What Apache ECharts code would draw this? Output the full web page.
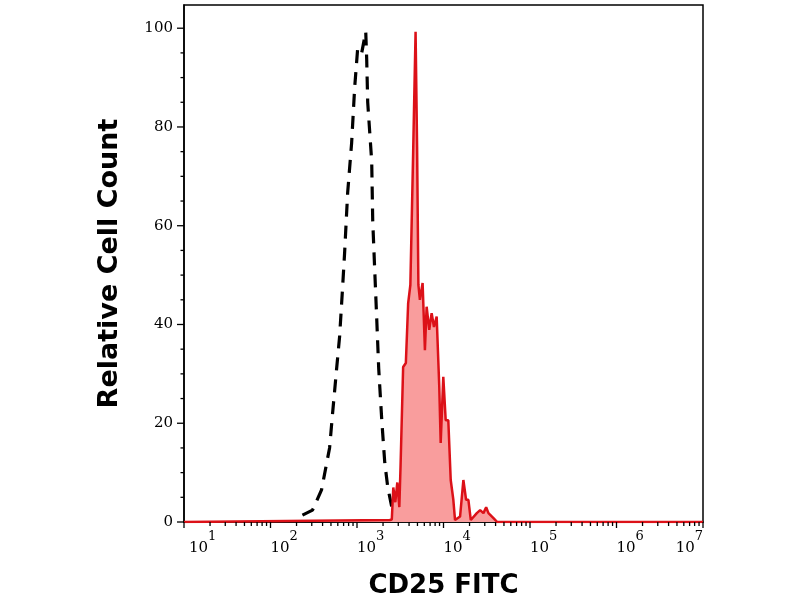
<!DOCTYPE html>
<html>
<head>
<meta charset="utf-8">
<script src="https://cdn.jsdelivr.net/npm/echarts@6/dist/echarts.min.js"></script>
<style>
  html, body { margin: 0; padding: 0; background: #fff; }
  #chart { width: 800px; height: 600px; }
</style>
</head>
<body>
<div id="chart"></div>
<script>
// isotype control (black dashed), [intensity, relative count]
const isotypeX = [234, 306, 389, 482, 522, 581, 629, 682, 719, 780, 867, 940, 1019, 1133, 1262,
  1295, 1330, 1479, 1520, 1603, 1692, 1783, 1932, 2094, 2269, 2525, 2735, 3126]
const isotypeY = [1.4, 2.4, 6.5, 15, 22, 31, 37.5, 47.6, 54.5, 66.7, 76.8, 88, 96, 95, 99.3,
  93.6, 85, 73, 61, 51, 41, 31, 20.7, 12, 7, 3, 1, 0.4]

// CD25 FITC stained (red filled)
const stainedX = [10, 2393, 2525, 2628, 2773, 2925, 3085, 3186, 3415, 3670, 3903, 4139, 4460, 4756,
  4951, 5126, 5336, 5733, 6097, 6381, 6841, 7294, 7757, 8337, 8935, 9278, 9945, 10603, 11365,
  12118, 12991, 13594, 15540, 16972, 18239, 19399, 20682, 24280, 26520, 28960, 31130, 33100,
  37840, 41770, 10000000]
const stainedY = [0, 0.4, 0.5, 7, 4, 8, 3, 11.2, 31.4, 32.2, 44.3, 48, 75, 99.3,
  76, 48, 45, 48.4, 34.8, 43.6, 38.9, 42.3, 39.5, 41.6, 27.4, 16, 29.4, 20.6, 20.6,
  8.5, 4.5, 0.4, 1.1, 8.5, 4.5, 4.5, 0.4, 1.8, 2.4, 1.8, 3, 1.8,
  0.8, 0, 0]

// axis ticks
const xMajorTicks = [10, 100, 1000, 10000, 100000, 1000000, 10000000]
const yMajorTicks = [0, 20, 40, 60, 80, 100]
const yMinorTicks = [5, 10, 15, 25, 30, 35, 45, 50, 55, 65, 70, 75, 85, 90, 95]

const xMinorTicks = []
xMajorTicks.slice(0, -1).forEach(function (d) {
  for (let k = 2; k <= 9; k++) xMinorTicks.push(d * k)
})

const pair = (xs, ys) => xs.map((x, i) => [x, ys[i]])

// [x, y, dx, dy]
const tickData = []
xMajorTicks.forEach(v => tickData.push([v, 0, 0, 6]))
xMinorTicks.forEach(v => tickData.push([v, 0, 0, 4]))
yMajorTicks.forEach(v => tickData.push([10, v, -7, 0]))
yMinorTicks.forEach(v => tickData.push([10, v, -3.5, 0]))

const serif = 'DejaVu Serif'

const option = {
  backgroundColor: '#fff',
  animation: false,
  grid: {
    left: 184, right: 97, top: 5, bottom: 78,
    outerBoundsMode: 'none',
    show: true, borderColor: '#000', borderWidth: 1.5
  },
  xAxis: {
    type: 'log',
    logBase: 10,
    min: 10,
    max: 10000000,
    name: 'CD25 FITC',
    nameLocation: 'middle',
    nameGap: 51,
    nameTextStyle: { fontFamily: 'DejaVu Sans', fontWeight: 'bold', fontSize: 26, color: '#000', verticalAlign: 'top' },
    axisLine: { lineStyle: { color: '#000', width: 1.5 } },
    axisTick: { show: false },
    splitLine: { show: false },
    axisLabel: {
      margin: 8,
      align: 'left',
      alignMaxLabel: 'right',
      formatter: function (value, index) {
        const e = Math.round(Math.log10(value))
        const key = index === 0 ? 'bf' : 'b'
        return '{' + key + '|10}{s|' + e + '}'
      },
      rich: {
        b: { fontFamily: serif, fontSize: 15, lineHeight: 36, color: '#000' },
        bf: { fontFamily: serif, fontSize: 15, lineHeight: 36, color: '#000', padding: [0, 0, 0, 5] },
        s: { fontFamily: serif, fontSize: 13, lineHeight: 13, verticalAlign: 'top', color: '#000' }
      }
    }
  },
  yAxis: {
    type: 'value',
    min: 0,
    max: 104.7,
    interval: 20,
    name: 'Relative Cell Count',
    nameLocation: 'middle',
    nameGap: 61,
    nameTextStyle: { fontFamily: 'DejaVu Sans', fontWeight: 'bold', fontSize: 27, color: '#000' },
    axisLine: { show: true, lineStyle: { color: '#000', width: 1.5 } },
    axisTick: { show: false },
    splitLine: { show: false },
    axisLabel: {
      margin: 11,
      showMaxLabel: false,
      fontFamily: serif,
      fontSize: 15,
      color: '#000'
    }
  },
  series: [
    {
      name: 'Isotype',
      type: 'line',
      data: pair(isotypeX, isotypeY),
      showSymbol: false,
      z: 2,
      lineStyle: { color: '#000', width: 3.2, type: [13, 9] }
    },
    {
      name: 'CD25',
      type: 'line',
      data: pair(stainedX, stainedY),
      showSymbol: false,
      z: 3,
      lineStyle: { color: '#dc1118', width: 2.5 },
      areaStyle: { color: '#f99d9d', opacity: 1 }
    },
    {
      name: 'ticks',
      type: 'custom',
      silent: true,
      clip: false,
      z: 5,
      data: tickData,
      encode: { x: 0, y: 1 },
      renderItem: function (params, api) {
        const p = api.coord([api.value(0), api.value(1)])
        return {
          type: 'line',
          shape: { x1: p[0], y1: p[1], x2: p[0] + api.value(2), y2: p[1] + api.value(3) },
          style: { stroke: '#000', lineWidth: 1.3 }
        }
      }
    }
  ]
}

const myChart = echarts.init(document.getElementById('chart'))
myChart.setOption(option)
window.onresize = function () {
  myChart.resize()
}
</script>
</body>
</html>
